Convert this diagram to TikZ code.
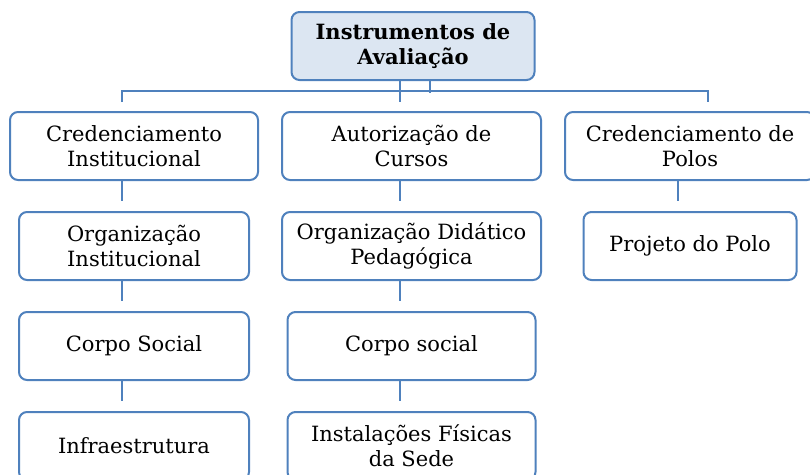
\documentclass[tikz,border=0pt]{standalone}
\usepackage{fontspec}
\setmainfont{DejaVu Serif}
\usepackage{xcolor}
\usetikzlibrary{positioning,calc}
\definecolor{avBlue}{HTML}{4F81BD}
\definecolor{avLight}{HTML}{DCE6F2}
\tikzset{
  avnode/.style={
    draw=avBlue, line width=2pt, rounded corners=8pt, fill=white,
    minimum height=68pt, inner sep=2pt, align=center,
    font=\fontsize{21}{25}\selectfont
  },
  avtop/.style={avnode, fill=avLight, minimum width=243pt,
    font=\fontsize{21}{25}\selectfont\bfseries},
  link/.style={draw=avBlue, line width=2pt}
}
\begin{document}
\begin{tikzpicture}[x=1pt, y=1pt]
  \useasboundingbox (0,0) rectangle (810,-474);
  \node[avtop] (top) at (413,-46) {Instrumentos de\\Avaliação};
  % first level
  \node[avnode, minimum width=248pt] (ci) at (134,-146) {Credenciamento\\Institucional};
  \node[avnode, minimum width=259pt, right=22pt of ci] (ac) {Autorização de\\Cursos};
  \node[avnode, minimum width=250pt, right=22pt of ac] (cp) {Credenciamento de\\Polos};
  % left column
  \node[avnode, minimum width=230pt, below=30pt of ci] (oi) {Organização\\Institucional};
  \node[avnode, minimum width=230pt, below=30pt of oi] (cs) {Corpo Social};
  \node[avnode, minimum width=230pt, below=30pt of cs] (inf) {Infraestrutura};
  % middle column
  \node[avnode, minimum width=259pt, below=30pt of ac] (odp) {Organização Didático\\Pedagógica};
  \node[avnode, minimum width=248pt, below=30pt of odp] (cso) {Corpo social};
  \node[avnode, minimum width=248pt, below=30pt of cso] (ifs) {Instalações Físicas\\da Sede};
  % right column
  \node[avnode, minimum width=213pt, below=30pt of cp] (pp) {Projeto do Polo};

  % connectors
  \draw[link] ($(ci.north)+(-12pt,9pt)$) |- ($(cp.north)+(18pt,20pt)$) -- ($(cp.north)+(18pt,9pt)$);
  \draw[link] ($(top.south)+(-13pt,0)$) -- ($(top.south |- ac.north)+(-13pt,9pt)$);
  \draw[link] ($(top.south)+(17pt,0)$) -- ($(top.south)+(17pt,-12pt)$);
  \foreach \a/\b in {ci/oi,oi/cs,cs/inf,ac/odp,odp/cso,cso/ifs,cp/pp}
    \draw[link] ([xshift=-12pt]\a.south) -- ($(\a.south |- \b.north)+(-12pt,10pt)$);
\end{tikzpicture}
\end{document}
